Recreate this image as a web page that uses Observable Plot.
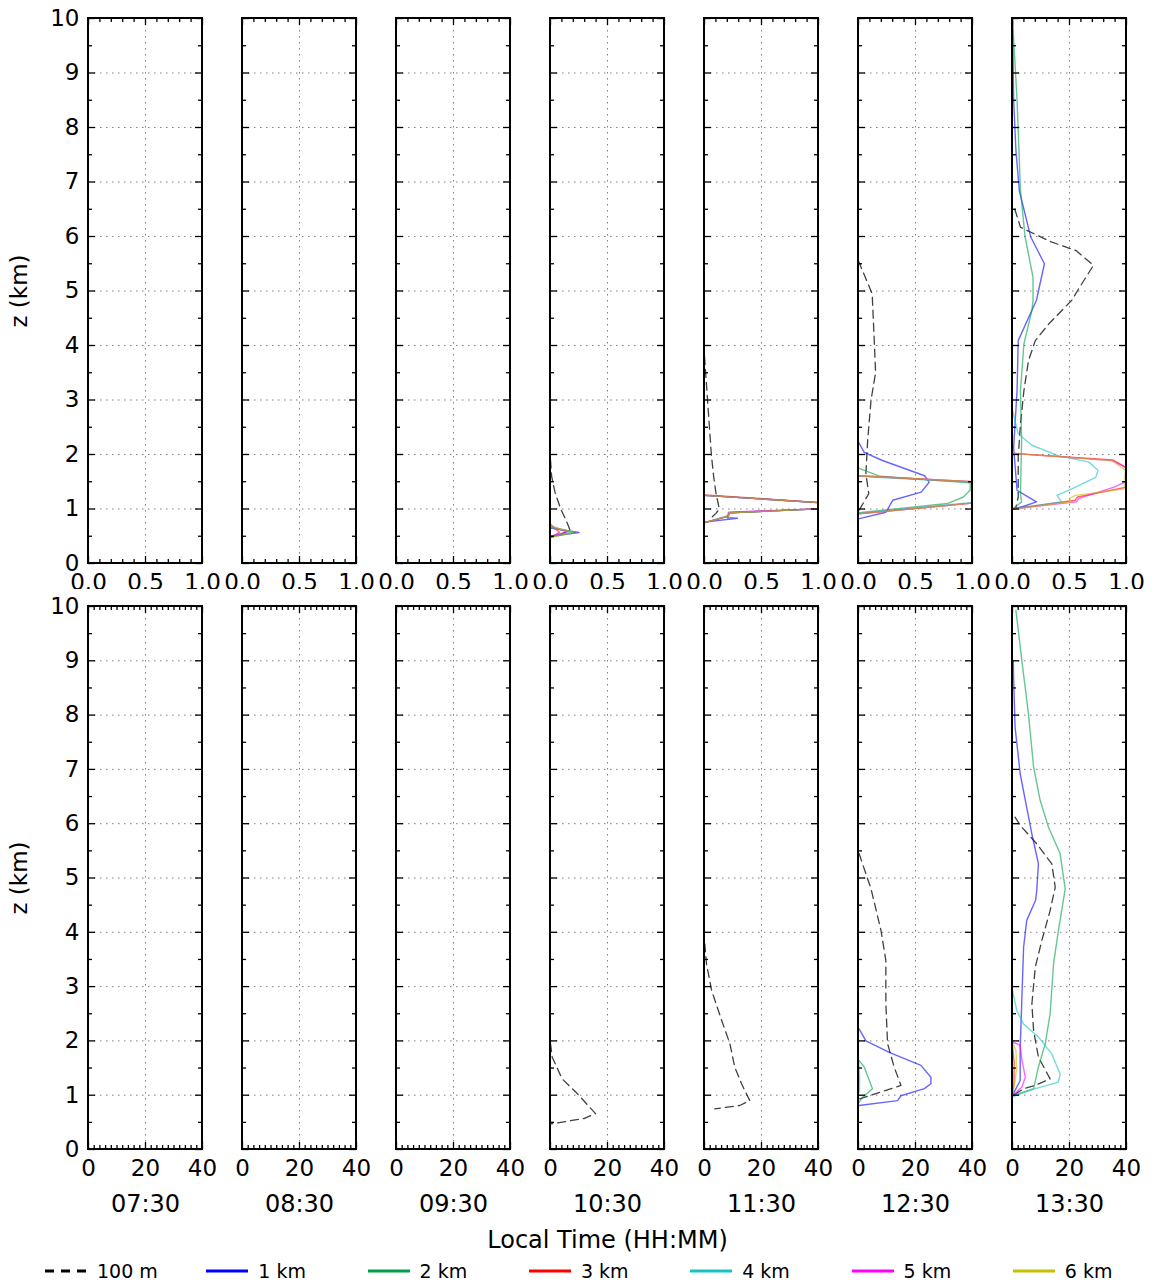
<!DOCTYPE html>
<html><head><meta charset="utf-8">
<script src="https://cdn.jsdelivr.net/npm/d3@7"></script>
<script src="https://cdn.jsdelivr.net/npm/@observablehq/plot@0.6"></script>
<style>
body{margin:0;background:#fff;font-family:"DejaVu Sans",sans-serif;}
#wrap{position:relative;width:1162px;height:1285px;overflow:hidden;}
#top{position:absolute;left:0;top:0}
#bottom{position:absolute;left:0;top:589px}
#legend{position:absolute;left:0;top:1258px;width:1162px;height:26px;font-size:19px;}
.item{position:absolute;top:0;height:26px;display:flex;align-items:center;white-space:nowrap}
.item svg{margin-right:10px}
</style></head><body>
<div id="wrap"><div id="top"></div><div id="bottom"></div><div id="legend"></div></div>
<script>
const times = ["07:30","08:30","09:30","10:30","11:30","12:30","13:30"];
const seriesNames = ["100 m","1 km","2 km","3 km","4 km","5 km","6 km"];
const seriesColors = ["#000000","#0000ff","#00a04a","#ff0000","#17c3c3","#ff00ff","#c8c000"];
const topXTicks = [0, 0.5, 1];
const bottomXTicks = [0, 20, 40];
const zTicks = [0,1,2,3,4,5,6,7,8,9,10];

// ---- top row profiles [value, z km] ----
const top1030_100m = [[0.0,1.9],[0.01,1.6],[0.04,1.3],[0.09,1.0],[0.14,0.78],[0.17,0.62],[0.08,0.52],[0.0,0.48]];
const top1030_1km = [[0,0.5],[0.25,0.57],[0,0.65]];
const top1030_2km = [[0,0.48],[0.21,0.57],[0,0.68]];
const top1030_3km = [[0.02,0.5],[0.08,0.57],[0,0.72]];
const top1030_4km = [[0,0.5],[0.18,0.57],[0,0.66]];
const top1030_5km = [[0,0.5],[0.15,0.58],[0,0.68]];
const top1030_6km = [[0,0.48],[0.2,0.57],[0,0.68]];

const top1130_100m = [[0.0,3.8],[0.02,3.2],[0.04,2.6],[0.06,2.0],[0.08,1.6],[0.1,1.3],[0.13,1.0],[0.1,0.92],[0.05,0.82]];
const top1130_1km = [[0,1.25],[1.5,1.05],[0.22,0.93],[0.2,0.84],[0.29,0.83],[0,0.76]];
const top1130_2km = [[0,1.25],[1.5,1.05],[0.22,0.93],[0.21,0.87],[0,0.75]];
const top1130_3km = [[0,1.26],[1.5,1.05],[0.22,0.93],[0.21,0.87],[0,0.75]];
const top1130_4km = [[0,1.25],[1.5,1.05],[0.22,0.93],[0.21,0.88],[0,0.75]];
const top1130_5km = [[0,1.25],[1.5,1.05],[0.21,0.94],[0.2,0.86],[0,0.75]];
const top1130_6km = [[0,1.25],[1.5,1.05],[0.22,0.93],[0.21,0.87],[0,0.75]];

const top1230_100m = [[0.0,5.55],[0.12,4.95],[0.14,4.0],[0.15,3.5],[0.11,3.0],[0.08,2.25],[0.065,1.65],[0.09,1.28],[0.02,1.03],[0,0.95]];
const top1230_1km = [[0,2.23],[0.05,2.04],[0.21,1.89],[0.58,1.61],[0.62,1.49],[0.55,1.31],[0.3,1.16],[0.24,0.94],[0,0.82]];
const top1230_2km = [[0,1.75],[0.19,1.6],[0.98,1.48],[0.98,1.35],[0.92,1.22],[0.78,1.1],[0,0.93]];
const top1230_3km = [[0,1.61],[2.26,1.36],[0,0.91]];
const top1230_4km = [[0,1.6],[2.2,1.36],[0,0.92]];
const top1230_5km = [[0,1.61],[2.26,1.36],[0,0.91]];
const top1230_6km = [[0,1.61],[2.26,1.36],[0,0.91]];

const top1330_100m = [[0.02,6.5],[0.07,6.17],[0.34,5.9],[0.56,5.74],[0.71,5.47],[0.58,5.04],[0.52,4.83],[0.32,4.4],[0.2,4.09],[0.14,3.72],[0.1,3.17],[0.07,2.56],[0.05,1.95],[0.05,1.22],[0.03,1.03]];
const top1330_1km = [[0,10],[0.01,8.5],[0.03,7.58],[0.06,6.84],[0.16,5.99],[0.28,5.5],[0.21,4.83],[0.05,4.09],[0.04,3.17],[0.01,2.13],[0.04,1.34],[0.21,1.13],[0.1,1.05],[0,1.0]];
const top1330_2km = [[0,10],[0.04,8.5],[0.07,6.84],[0.11,6.0],[0.18,5.25],[0.18,4.83],[0.17,4.64],[0.1,4.03],[0.07,3.17],[0.08,2.26],[0.07,1.28],[0.08,1.13],[0,1.0]];
const top1330_3km = [[0,2.02],[0.88,1.9],[1.05,1.7],[1.0,1.4],[0.57,1.22],[0.55,1.16],[0,1.0]];
const top1330_4km = [[0,2.81],[0.05,2.38],[0.17,2.17],[0.4,1.98],[0.67,1.86],[0.75,1.71],[0.73,1.58],[0.52,1.37],[0.39,1.25],[0.43,1.13],[0,1.0]];
const top1330_5km = [[0,2.02],[0.87,1.89],[1.05,1.7],[1.05,1.55],[0.89,1.4],[0.58,1.19],[0.56,1.13],[0,1.0]];
const top1330_6km = [[0,2.02],[0.87,1.89],[0.99,1.71],[0.98,1.37],[0.55,1.25],[0.5,1.19],[0.52,1.13],[0,1.0]];

// ---- bottom row profiles [value, z km] ----
const bot1030_100m = [[0,1.95],[0.6,1.7],[4.1,1.3],[9.4,1.03],[15.8,0.66],[11.7,0.57],[0,0.47]];

const bot1130_100m = [[0.1,3.79],[0.7,3.42],[2.5,2.93],[6.0,2.38],[8.9,1.95],[10.6,1.52],[13,1.21],[15.9,0.9],[12.4,0.81],[3.6,0.75]];

const bot1230_100m = [[0.2,5.45],[4.4,4.8],[7.9,4.03],[9.6,3.48],[9.6,2.68],[10.2,1.95],[12.5,1.52],[14.9,1.18],[6.1,1.03],[0.2,0.93]];
const bot1230_1km = [[0.2,2.22],[2.6,2.0],[10.8,1.79],[21.9,1.55],[25.4,1.33],[25.4,1.21],[23.1,1.12],[14.9,0.99],[13.7,0.9],[0.2,0.81]];
const bot1230_2km = [[0.2,1.64],[2,1.52],[4.9,1.12],[1.4,0.96],[0.2,0.87]];
const bot1230_4km = [[0.1,1.6],[0.4,1.3],[0.3,1.05]];

const bot1330_100m = [[0.9,6.12],[2.7,5.97],[8.5,5.63],[13.8,5.26],[15.0,4.83],[13.2,4.4],[10.3,3.85],[8.0,3.36],[6.8,2.68],[7.4,2.19],[9.1,1.7],[13.2,1.3],[8.0,1.18],[3.9,1.12],[0,0.99]];
const bot1330_1km = [[0.3,9.0],[0.35,8.76],[0.9,7.78],[2.7,6.92],[4.5,6.43],[6.8,5.81],[9.1,5.26],[8.5,4.77],[8.1,4.59],[5.0,4.22],[3.9,3.73],[3.3,2.8],[2.7,1.88],[2.7,1.27],[0.9,1.09],[0,0.99]];
const bot1330_2km = [[1.2,9.93],[3.3,9.0],[5.6,8.02],[7.4,7.04],[9.7,6.43],[12.6,5.94],[16.7,5.45],[18.5,4.8],[16.1,4.03],[14.4,3.42],[13.2,2.5],[11.5,1.95],[9.1,1.52],[7.4,1.12],[0,0.99]];
const bot1330_3km = [[0,1.9],[0.6,1.6],[0.5,1.2],[0,1.0]];
const bot1330_4km = [[0,2.93],[1.5,2.56],[3.9,2.31],[9.1,2.07],[13.8,1.76],[16.7,1.39],[16.1,1.24],[8,1.12],[0,0.97]];
const bot1330_5km = [[0,1.98],[2.7,1.92],[3.3,1.65],[4.5,1.33],[3.3,1.15],[0,0.99]];
const bot1330_6km = [[0,1.98],[1.2,1.82],[1.5,1.52],[0.9,1.27],[0,1.0]];

const topProfiles = [
  ["10:30","100 m",top1030_100m],["10:30","1 km",top1030_1km],["10:30","2 km",top1030_2km],["10:30","3 km",top1030_3km],["10:30","4 km",top1030_4km],["10:30","5 km",top1030_5km],["10:30","6 km",top1030_6km],
  ["11:30","100 m",top1130_100m],["11:30","1 km",top1130_1km],["11:30","2 km",top1130_2km],["11:30","3 km",top1130_3km],["11:30","4 km",top1130_4km],["11:30","5 km",top1130_5km],["11:30","6 km",top1130_6km],
  ["12:30","100 m",top1230_100m],["12:30","1 km",top1230_1km],["12:30","2 km",top1230_2km],["12:30","3 km",top1230_3km],["12:30","4 km",top1230_4km],["12:30","5 km",top1230_5km],["12:30","6 km",top1230_6km],
  ["13:30","100 m",top1330_100m],["13:30","1 km",top1330_1km],["13:30","2 km",top1330_2km],["13:30","3 km",top1330_3km],["13:30","4 km",top1330_4km],["13:30","5 km",top1330_5km],["13:30","6 km",top1330_6km]
];
const bottomProfiles = [
  ["10:30","100 m",bot1030_100m],
  ["11:30","100 m",bot1130_100m],
  ["12:30","100 m",bot1230_100m],["12:30","1 km",bot1230_1km],["12:30","2 km",bot1230_2km],["12:30","4 km",bot1230_4km],
  ["13:30","100 m",bot1330_100m],["13:30","1 km",bot1330_1km],["13:30","2 km",bot1330_2km],["13:30","3 km",bot1330_3km],["13:30","4 km",bot1330_4km],["13:30","5 km",bot1330_5km],["13:30","6 km",bot1330_6km]
];

function toRows(list){ return list.flatMap(([t,s,pts]) => pts.map(([v,z],i)=>({t,s,v,z,i}))); }

const FONT = "DejaVu Sans";
function panelRow(o) {
  const ph = o.height - o.marginTop - o.marginBottom;
  const pw = 114;
  const rows = toRows(o.profiles);
  const gridStyle = {stroke:"#7f7f7f", strokeOpacity:1, strokeWidth:1, strokeDasharray:"1.5,4.5"};
  const tk = {stroke:"black", strokeWidth:1.3};
  const zMinor = d3.range(0.5, 10, 1);
  const marks = [
    Plot.rect(times, {fx: d=>d, fill:"white", stroke:"none"}),
    Plot.gridX({ticks: o.xGrid, ...gridStyle}),
    Plot.gridY({ticks: d3.range(1,10), ...gridStyle}),
    Plot.line(rows.filter(d=>d.s==="100 m"), {x:"v", y:"z", fx:"t", stroke:"black", strokeOpacity:0.75, strokeWidth:1.3, strokeDasharray:"8,5", clip:true}),
    Plot.line(rows.filter(d=>d.s!=="100 m"), {x:"v", y:"z", z:"s", stroke:"s", fx:"t", clip:true, strokeWidth:1.4, strokeOpacity:0.6}),
    Plot.tickX(o.xMajor, {x:d=>d, insetTop: ph-7, ...tk}),
    Plot.tickX(o.xMajor, {x:d=>d, insetBottom: ph-7, ...tk}),
    Plot.tickX(o.xMinor, {x:d=>d, insetTop: ph-4, ...tk}),
    Plot.tickX(o.xMinor, {x:d=>d, insetBottom: ph-4, ...tk}),
    Plot.tickY(zTicks, {y:d=>d, insetRight: pw-7, ...tk}),
    Plot.tickY(zTicks, {y:d=>d, insetLeft: pw-7, ...tk}),
    Plot.tickY(zMinor, {y:d=>d, insetRight: pw-4, ...tk}),
    Plot.tickY(zMinor, {y:d=>d, insetLeft: pw-4, ...tk}),
    Plot.rect(times, {fx: d=>d, fill:"none", stroke:"black", strokeWidth:2}),
    Plot.axisX({ticks: o.xMajor, tickFormat: o.fmt, tickSize:0, tickPadding:10, fontSize:23, label:null}),
    Plot.axisY({ticks: zTicks, tickSize:0, tickPadding:9, fontSize:23, label:"z (km)", labelAnchor:"center", labelArrow:"none", labelOffset:78})
  ];
  if (o.fxAxis) marks.push(Plot.axisFx({anchor:"bottom", tickSize:0, tickPadding:45, fontSize:24, label:"Local Time (HH:MM)", labelAnchor:"center", labelArrow:"none", labelOffset:98}));
  return Plot.plot({
    width: 1162, height: o.height,
    marginLeft: 86, marginRight: 34, marginTop: o.marginTop, marginBottom: o.marginBottom,
    style: {fontFamily: FONT, fontSize: "23px", color: "black", background: "white", overflow: "visible"},
    x: {domain: o.xDomain},
    y: {domain: [0, 10]},
    color: {domain: seriesNames, range: seriesColors},
    fx: {domain: times, paddingInner: 0.2629, paddingOuter: 0, ...(o.fxAxis ? {} : {axis: null})},
    marks
  });
}

document.getElementById("top").append(panelRow({
  profiles: topProfiles, xDomain:[0,1], xMajor: topXTicks, xMinor: d3.range(1,10).filter(i=>i!==5).map(i=>i/10), xGrid:[0.5],
  fmt: d3.format(".1f"), height: 589, marginTop: 18, marginBottom: 26, fxAxis: false
}));
document.getElementById("bottom").append(panelRow({
  profiles: bottomProfiles, xDomain:[0,40], xMajor: bottomXTicks, xMinor: d3.range(2,40,2).filter(v=>v!==20), xGrid:[20],
  fmt: d=>String(d), height: 666, marginTop: 17, marginBottom: 106, fxAxis: true
}));

// legend
const leg = document.getElementById("legend");
seriesNames.forEach((name, i) => {
  const div = document.createElement("div");
  div.className = "item";
  div.style.left = (45 + i*161.3) + "px";
  const dash = i === 0 ? 'stroke-dasharray="9,7"' : '';
  div.innerHTML = `<svg width="42" height="10"><line x1="0" x2="42" y1="5" y2="5" stroke="${seriesColors[i]}" stroke-width="3" ${dash}/></svg><span>${name}</span>`;
  leg.append(div);
});
</script>
</body></html>
